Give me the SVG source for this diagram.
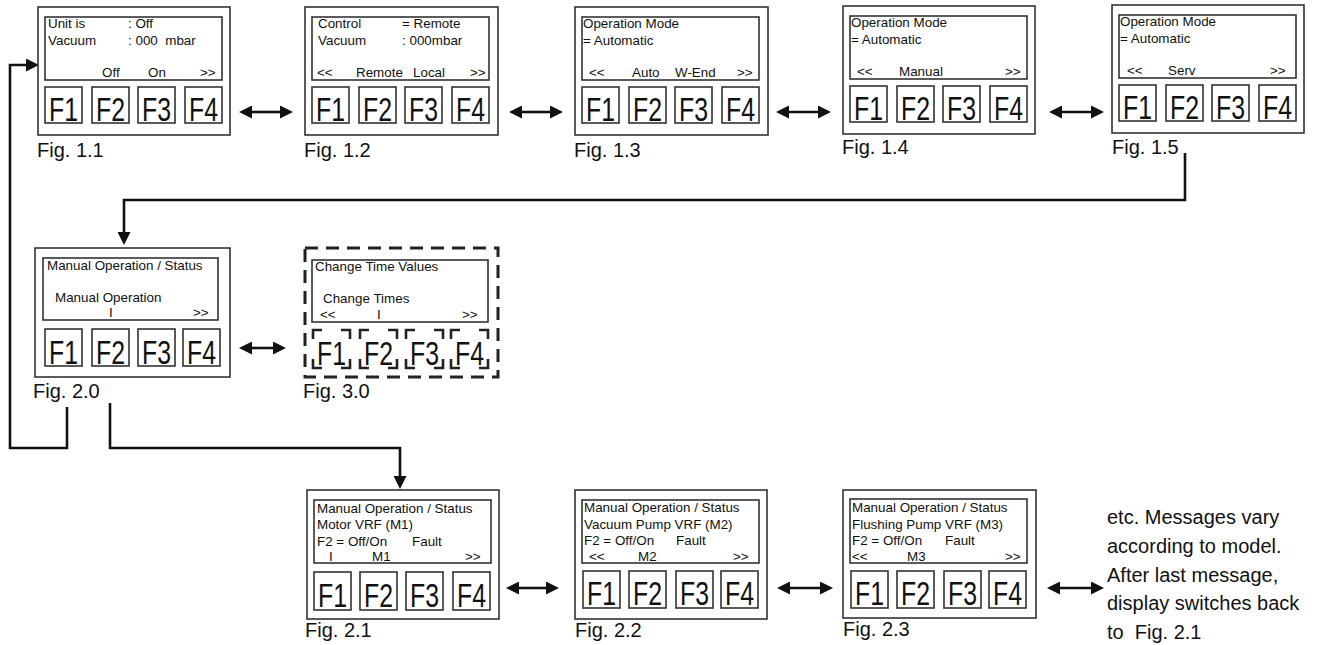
<svg xmlns="http://www.w3.org/2000/svg" width="1329" height="645" viewBox="0 0 1329 645">
<style>
text{font-family:"Liberation Sans",Arial,sans-serif;fill:#111;white-space:pre}
.s{font-size:13.4px}
.k{font-size:33px;text-anchor:middle}
.f{font-size:20px}
.o{fill:#fff;stroke:#333;stroke-width:1.6}
.d{fill:#fff;stroke:#222;stroke-width:3;stroke-dasharray:13 8}
.kd{fill:none;stroke:#222;stroke-width:2.6;stroke-dasharray:9 19 18 20 18 19 18 20 9}
.c{fill:none;stroke:#111;stroke-width:2.6}
</style>
<defs>
<marker id="ah" viewBox="0 0 13 13" refX="2" refY="6.5" markerWidth="13" markerHeight="13" markerUnits="userSpaceOnUse" orient="auto-start-reverse"><path d="M0,0 L13,6.5 L0,13 z" fill="#111"/></marker>
</defs>

<g id="connectors">
<path class="c" d="M67,407 V448 H10 V65 H28" marker-end="url(#ah)"/>
<path class="c" d="M110,403 V448 H400 V478" marker-end="url(#ah)"/>
<path class="c" d="M1185,153 V200 H124 V234" marker-end="url(#ah)"/>
<line class="c" x1="250" y1="112" x2="282" y2="112" marker-start="url(#ah)" marker-end="url(#ah)"/>
<line class="c" x1="520" y1="112" x2="552" y2="112" marker-start="url(#ah)" marker-end="url(#ah)"/>
<line class="c" x1="787" y1="112" x2="820" y2="112" marker-start="url(#ah)" marker-end="url(#ah)"/>
<line class="c" x1="1060" y1="112" x2="1093" y2="112" marker-start="url(#ah)" marker-end="url(#ah)"/>
<line class="c" x1="250" y1="348" x2="275" y2="348" marker-start="url(#ah)" marker-end="url(#ah)"/>
<line class="c" x1="517" y1="588" x2="548" y2="588" marker-start="url(#ah)" marker-end="url(#ah)"/>
<line class="c" x1="788" y1="588" x2="822" y2="588" marker-start="url(#ah)" marker-end="url(#ah)"/>
<line class="c" x1="1058" y1="588" x2="1093" y2="588" marker-start="url(#ah)" marker-end="url(#ah)"/>
</g>

<g id="fig11">
<rect class="o" x="38" y="7" width="192" height="128"/>
<rect class="o" x="45" y="17" width="177" height="63"/>
<text class="s" x="48" y="28">Unit is</text><text class="s" x="128" y="28">: Off</text>
<text class="s" x="48" y="45">Vacuum</text><text class="s" x="128" y="45">: 000  mbar</text>
<text class="s" x="102" y="77">Off</text><text class="s" x="148" y="77">On</text><text class="s" x="200" y="77">&gt;&gt;</text>
<rect class="o" x="45" y="87" width="37" height="36"/><rect class="o" x="92" y="87" width="37" height="36"/><rect class="o" x="138" y="87" width="37" height="36"/><rect class="o" x="185" y="87" width="37" height="36"/>
<text class="k" x="63.5" y="121" textLength="29" lengthAdjust="spacingAndGlyphs">F1</text><text class="k" x="110.5" y="121" textLength="29" lengthAdjust="spacingAndGlyphs">F2</text><text class="k" x="156.5" y="121" textLength="29" lengthAdjust="spacingAndGlyphs">F3</text><text class="k" x="203.5" y="121" textLength="29" lengthAdjust="spacingAndGlyphs">F4</text>
<text class="f" x="37" y="157">Fig. 1.1</text>
</g>

<g id="fig12">
<rect class="o" x="305" y="7" width="193" height="128"/>
<rect class="o" x="312" y="17" width="177" height="63"/>
<text class="s" x="318" y="28">Control</text><text class="s" x="402" y="28">= Remote</text>
<text class="s" x="318" y="45">Vacuum</text><text class="s" x="402" y="45">: 000mbar</text>
<text class="s" x="317" y="77">&lt;&lt;</text><text class="s" x="356" y="77">Remote</text><text class="s" x="413" y="77">Local</text><text class="s" x="470" y="77">&gt;&gt;</text>
<rect class="o" x="312" y="87" width="37" height="36"/><rect class="o" x="359" y="87" width="37" height="36"/><rect class="o" x="405" y="87" width="37" height="36"/><rect class="o" x="452" y="87" width="37" height="36"/>
<text class="k" x="330.5" y="121" textLength="29" lengthAdjust="spacingAndGlyphs">F1</text><text class="k" x="377.5" y="121" textLength="29" lengthAdjust="spacingAndGlyphs">F2</text><text class="k" x="423.5" y="121" textLength="29" lengthAdjust="spacingAndGlyphs">F3</text><text class="k" x="470.5" y="121" textLength="29" lengthAdjust="spacingAndGlyphs">F4</text>
<text class="f" x="304" y="157">Fig. 1.2</text>
</g>

<g id="fig13">
<rect class="o" x="575" y="7" width="193" height="128"/>
<rect class="o" x="582" y="17" width="177" height="63"/>
<text class="s" x="583" y="28">Operation Mode</text>
<text class="s" x="583" y="45">= Automatic</text>
<text class="s" x="589" y="77">&lt;&lt;</text><text class="s" x="632" y="77">Auto</text><text class="s" x="675" y="77">W-End</text><text class="s" x="737" y="77">&gt;&gt;</text>
<rect class="o" x="582" y="87" width="37" height="36"/><rect class="o" x="629" y="87" width="37" height="36"/><rect class="o" x="675" y="87" width="37" height="36"/><rect class="o" x="722" y="87" width="37" height="36"/>
<text class="k" x="600.5" y="121" textLength="29" lengthAdjust="spacingAndGlyphs">F1</text><text class="k" x="647.5" y="121" textLength="29" lengthAdjust="spacingAndGlyphs">F2</text><text class="k" x="693.5" y="121" textLength="29" lengthAdjust="spacingAndGlyphs">F3</text><text class="k" x="740.5" y="121" textLength="29" lengthAdjust="spacingAndGlyphs">F4</text>
<text class="f" x="574" y="157">Fig. 1.3</text>
</g>

<g id="fig14">
<rect class="o" x="843" y="6" width="192" height="128"/>
<rect class="o" x="850" y="16" width="177" height="63"/>
<text class="s" x="851" y="27">Operation Mode</text>
<text class="s" x="851" y="44">= Automatic</text>
<text class="s" x="857" y="76">&lt;&lt;</text><text class="s" x="899" y="76">Manual</text><text class="s" x="1005" y="76">&gt;&gt;</text>
<rect class="o" x="850" y="86" width="37" height="36"/><rect class="o" x="897" y="86" width="37" height="36"/><rect class="o" x="943" y="86" width="37" height="36"/><rect class="o" x="990" y="86" width="37" height="36"/>
<text class="k" x="868.5" y="120" textLength="29" lengthAdjust="spacingAndGlyphs">F1</text><text class="k" x="915.5" y="120" textLength="29" lengthAdjust="spacingAndGlyphs">F2</text><text class="k" x="961.5" y="120" textLength="29" lengthAdjust="spacingAndGlyphs">F3</text><text class="k" x="1008.5" y="120" textLength="29" lengthAdjust="spacingAndGlyphs">F4</text>
<text class="f" x="842" y="154">Fig. 1.4</text>
</g>

<g id="fig15">
<rect class="o" x="1112" y="5" width="192" height="128"/>
<rect class="o" x="1119" y="15" width="177" height="63"/>
<text class="s" x="1120" y="26">Operation Mode</text>
<text class="s" x="1120" y="43">= Automatic</text>
<text class="s" x="1127" y="75">&lt;&lt;</text><text class="s" x="1168" y="75">Serv</text><text class="s" x="1270" y="75">&gt;&gt;</text>
<rect class="o" x="1119" y="85" width="37" height="36"/><rect class="o" x="1166" y="85" width="37" height="36"/><rect class="o" x="1212" y="85" width="37" height="36"/><rect class="o" x="1259" y="85" width="37" height="36"/>
<text class="k" x="1137.5" y="119" textLength="29" lengthAdjust="spacingAndGlyphs">F1</text><text class="k" x="1184.5" y="119" textLength="29" lengthAdjust="spacingAndGlyphs">F2</text><text class="k" x="1230.5" y="119" textLength="29" lengthAdjust="spacingAndGlyphs">F3</text><text class="k" x="1277.5" y="119" textLength="29" lengthAdjust="spacingAndGlyphs">F4</text>
<text class="f" x="1112" y="154">Fig. 1.5</text>
</g>

<g id="fig20">
<rect class="o" x="35" y="248" width="195" height="129"/>
<rect class="o" x="43" y="258" width="175" height="62"/>
<text class="s" x="47" y="270">Manual Operation / Status</text>
<text class="s" x="55" y="302">Manual Operation</text>
<text class="s" x="109" y="317">I</text><text class="s" x="193" y="317">&gt;&gt;</text>
<rect class="o" x="45" y="329" width="37" height="37"/><rect class="o" x="92" y="329" width="37" height="37"/><rect class="o" x="138" y="329" width="37" height="37"/><rect class="o" x="183" y="329" width="37" height="37"/>
<text class="k" x="63.5" y="364" textLength="29" lengthAdjust="spacingAndGlyphs">F1</text><text class="k" x="110.5" y="364" textLength="29" lengthAdjust="spacingAndGlyphs">F2</text><text class="k" x="156.5" y="364" textLength="29" lengthAdjust="spacingAndGlyphs">F3</text><text class="k" x="201.5" y="364" textLength="29" lengthAdjust="spacingAndGlyphs">F4</text>
<text class="f" x="33" y="398">Fig. 2.0</text>
</g>

<g id="fig30">
<rect class="d" x="305" y="248" width="193" height="129"/>
<rect class="o" x="312" y="260" width="176" height="62"/>
<text class="s" x="315" y="271">Change Time Values</text>
<text class="s" x="323" y="303">Change Times</text>
<text class="s" x="320" y="319">&lt;&lt;</text><text class="s" x="377" y="319">I</text><text class="s" x="462" y="319">&gt;&gt;</text>
<rect class="kd" x="313" y="330" width="37" height="38"/><rect class="kd" x="360" y="330" width="37" height="38"/><rect class="kd" x="406" y="330" width="37" height="38"/><rect class="kd" x="451" y="330" width="37" height="38"/>
<text class="k" x="331.5" y="365" textLength="29" lengthAdjust="spacingAndGlyphs">F1</text><text class="k" x="378.5" y="365" textLength="29" lengthAdjust="spacingAndGlyphs">F2</text><text class="k" x="424.5" y="365" textLength="29" lengthAdjust="spacingAndGlyphs">F3</text><text class="k" x="469.5" y="365" textLength="29" lengthAdjust="spacingAndGlyphs">F4</text>
<text class="f" x="303" y="398">Fig. 3.0</text>
</g>

<g id="fig21">
<rect class="o" x="307" y="490" width="192" height="129"/>
<rect class="o" x="314" y="500" width="177" height="63"/>
<text class="s" x="317" y="513">Manual Operation / Status</text>
<text class="s" x="317" y="529">Motor VRF (M1)</text>
<text class="s" x="317" y="546">F2 = Off/On</text><text class="s" x="412" y="546">Fault</text>
<text class="s" x="329" y="561">I</text><text class="s" x="372" y="561">M1</text><text class="s" x="465" y="561">&gt;&gt;</text>
<rect class="o" x="314" y="572" width="37" height="38"/><rect class="o" x="360" y="572" width="37" height="38"/><rect class="o" x="406" y="572" width="37" height="38"/><rect class="o" x="453" y="572" width="37" height="38"/>
<text class="k" x="332.5" y="607" textLength="29" lengthAdjust="spacingAndGlyphs">F1</text><text class="k" x="378.5" y="607" textLength="29" lengthAdjust="spacingAndGlyphs">F2</text><text class="k" x="424.5" y="607" textLength="29" lengthAdjust="spacingAndGlyphs">F3</text><text class="k" x="471.5" y="607" textLength="29" lengthAdjust="spacingAndGlyphs">F4</text>
<text class="f" x="305" y="637">Fig. 2.1</text>
</g>

<g id="fig22">
<rect class="o" x="575" y="490" width="192" height="129"/>
<rect class="o" x="582" y="500" width="177" height="63"/>
<text class="s" x="584" y="512">Manual Operation / Status</text>
<text class="s" x="584" y="529">Vacuum Pump VRF (M2)</text>
<text class="s" x="584" y="545">F2 = Off/On</text><text class="s" x="676" y="545">Fault</text>
<text class="s" x="589" y="561">&lt;&lt;</text><text class="s" x="638" y="561">M2</text><text class="s" x="733" y="561">&gt;&gt;</text>
<rect class="o" x="583" y="571" width="37" height="37"/><rect class="o" x="629" y="571" width="37" height="37"/><rect class="o" x="676" y="571" width="37" height="37"/><rect class="o" x="721" y="571" width="37" height="37"/>
<text class="k" x="601.5" y="605" textLength="29" lengthAdjust="spacingAndGlyphs">F1</text><text class="k" x="647.5" y="605" textLength="29" lengthAdjust="spacingAndGlyphs">F2</text><text class="k" x="694.5" y="605" textLength="29" lengthAdjust="spacingAndGlyphs">F3</text><text class="k" x="739.5" y="605" textLength="29" lengthAdjust="spacingAndGlyphs">F4</text>
<text class="f" x="575" y="637">Fig. 2.2</text>
</g>

<g id="fig23">
<rect class="o" x="843" y="490" width="193" height="128"/>
<rect class="o" x="850" y="499" width="177" height="64"/>
<text class="s" x="852" y="512">Manual Operation / Status</text>
<text class="s" x="852" y="529">Flushing Pump VRF (M3)</text>
<text class="s" x="852" y="545">F2 = Off/On</text><text class="s" x="945" y="545">Fault</text>
<text class="s" x="852" y="561">&lt;&lt;</text><text class="s" x="907" y="561">M3</text><text class="s" x="1005" y="561">&gt;&gt;</text>
<rect class="o" x="851" y="571" width="37" height="37"/><rect class="o" x="897" y="571" width="37" height="37"/><rect class="o" x="944" y="571" width="37" height="37"/><rect class="o" x="989" y="571" width="37" height="37"/>
<text class="k" x="869.5" y="605" textLength="29" lengthAdjust="spacingAndGlyphs">F1</text><text class="k" x="915.5" y="605" textLength="29" lengthAdjust="spacingAndGlyphs">F2</text><text class="k" x="962.5" y="605" textLength="29" lengthAdjust="spacingAndGlyphs">F3</text><text class="k" x="1007.5" y="605" textLength="29" lengthAdjust="spacingAndGlyphs">F4</text>
<text class="f" x="843" y="636">Fig. 2.3</text>
</g>

<g id="note">
<text class="f" x="1107" y="524">etc. Messages vary</text>
<text class="f" x="1107" y="553">according to model.</text>
<text class="f" x="1107" y="582">After last message,</text>
<text class="f" x="1107" y="610">display switches back</text>
<text class="f" x="1107" y="639">to  Fig. 2.1</text>
</g>
</svg>
